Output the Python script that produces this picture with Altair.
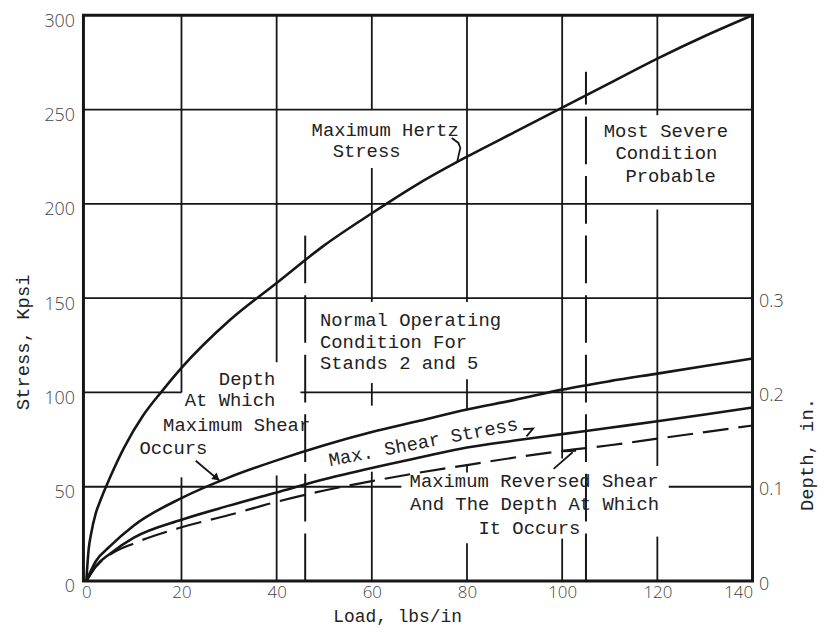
import altair as alt
import pandas as pd

# ---------------- data ----------------
load_hertz = [0, 0.5, 1, 2, 3, 5, 8, 12, 16, 20, 30, 40, 50, 60, 70, 80, 90, 100, 110, 120, 130, 140]
hertz_stress = [0, 17, 25, 36, 43, 55, 71, 88, 101, 113, 138, 158, 178, 195, 211, 225, 238, 251, 264, 277, 289, 300]

load_pts = [0, 2, 5, 10, 20, 30, 40, 50, 60, 70, 80, 90, 100, 110, 120, 130, 140]
depth_max_shear_in = [0, 0.021, 0.037, 0.059, 0.088, 0.110, 0.128, 0.144, 0.158, 0.170, 0.182, 0.192, 0.203, 0.212, 0.220, 0.228, 0.236]
max_shear_stress = [0, 8, 14.5, 23, 32.5, 40, 47, 54, 60, 65.5, 70.8, 74.5, 77.9, 81.3, 84.7, 88.3, 92]
max_reversed_shear = [0, 7.5, 14, 20, 28.5, 35, 42, 48, 53, 57.5, 61.5, 65.5, 69, 72, 75.5, 79, 82.5]

x_ticks = [0, 20, 40, 60, 80, 100, 120, 140]
y_ticks = [0, 50, 100, 150, 200, 250, 300]
depth_ticks = [0, 0.1, 0.2, 0.3]

# hand-drawn grid (interrupted where the lettering sits)
vgrid_x = [20, 20, 40, 40, 60, 60, 60, 60, 80, 80, 80, 80, 100, 100, 120, 120, 120]
vgrid_y1 = [0, 100, 0, 116, 0, 93, 148, 250, 0, 57.5, 91, 148, 0, 65, 0, 61, 247]
vgrid_y2 = [55, 300, 56, 300, 58, 105, 219, 300, 20, 62, 107, 300, 22.5, 300, 23.6, 197, 300]

hgrid_y = [50, 50, 100, 100, 150, 200, 250]
hgrid_x1 = [-0.6, 122.4, -0.6, 45, -0.6, -0.6, -0.6]
hgrid_x2 = [66.2, 140, 20, 140, 140, 140, 140]

# operating-condition markers (dashed verticals)
cond_x = [46, 105]
cond_top = [186, 270]

# annotations
ann_center_text = ["Maximum Hertz", "Stress", "Most Severe", "Condition", "Probable",
                   "Depth", "At Which", "Maximum Shear", "Occurs",
                   "Maximum Reversed Shear", "And The Depth At Which", "It Occurs"]
ann_center_x = [62.8, 58.9, 121.8, 121.9, 122.8, 33.8, 30.2, 31.6, 18.3, 94.1, 94.2, 93.1]
ann_center_y = [239, 228, 238.7, 227, 215, 107.1, 96, 82.9, 70.3, 52.9, 40.8, 28.2]

ann_left_text = ["Normal Operating", "Condition For", "Stands 2 and 5"]
ann_left_x = [49.1, 49.1, 49.1]
ann_left_y = [138.4, 126.6, 115.5]

ann_rot_text = ["Max. Shear Stress"]
ann_rot_x = [70.8]
ann_rot_y = [73.7]

# leader lines (from label to curve)
lead_grp = ["hertz"] * 5 + ["occurs"] * 2 + ["shear"] * 3 + ["rev"] * 2 + ["revhook"] * 2
lead_x = [76.8, 78.2, 78.6, 78.2, 77.9, 23.0, 28.0, 91.8, 93.9, 92.5, 98.2, 102.2, 100.3, 102.9]
lead_y = [234.9, 232.3, 229.6, 225.3, 221.7, 63.8, 53.2, 80.5, 80.9, 76.7, 59.5, 68.3, 68.8, 69.1]
arrow_x = [27.4]
arrow_y = [54.6]

# ---------------- tables ----------------
hertz_df = pd.DataFrame({"load": load_hertz, "stress": hertz_stress})
curves_df = pd.DataFrame({"load": load_pts, "depth": depth_max_shear_in,
                          "shear": max_shear_stress, "rev": max_reversed_shear})
vgrid_df = pd.DataFrame({"x": vgrid_x, "y1": vgrid_y1, "y2": vgrid_y2})
hgrid_df = pd.DataFrame({"y": hgrid_y, "x1": hgrid_x1, "x2": hgrid_x2})
cond_df = pd.DataFrame({"x": cond_x, "top": cond_top, "bot": [0, 0]})
annc_df = pd.DataFrame({"x": ann_center_x, "y": ann_center_y, "t": ann_center_text})
annl_df = pd.DataFrame({"x": ann_left_x, "y": ann_left_y, "t": ann_left_text})
annr_df = pd.DataFrame({"x": ann_rot_x, "y": ann_rot_y, "t": ann_rot_text})
lead_df = pd.DataFrame({"x": lead_x, "y": lead_y, "g": lead_grp, "o": list(range(len(lead_x)))})
arrow_df = pd.DataFrame({"x": arrow_x, "y": arrow_y})

# ---------------- scales / axes ----------------
INK = "#161616"
MONO = "Liberation Mono"
xs = alt.Scale(domain=[-0.6, 140], nice=False, zero=False)
ys = alt.Scale(domain=[0, 300], nice=False)
ds = alt.Scale(domain=[0, 0.6], nice=False)

x_axis = alt.Axis(values=x_ticks, grid=False, ticks=False, domain=False,
                  labelFont="Open Sans", labelFontWeight=300, labelFontSize=17,
                  labelColor="#444", labelPadding=4,
                  title="Load, lbs/in", titleFont=MONO, titleFontSize=18,
                  titleFontWeight="normal", titleColor="#222",
                  titleX=316, titleY=36, titleAlign="center", titleBaseline="middle")
y_axis = alt.Axis(values=y_ticks, grid=False, ticks=False, domain=False,
                  labelFont="Open Sans", labelFontWeight=300, labelFontSize=18,
                  labelColor="#444", labelPadding=9, labelBaseline="middle", labelOffset=6,
                  title="Stress, Kpsi", titleFont=MONO, titleFontSize=19,
                  titleFontWeight="normal", titleColor="#222",
                  titleAngle=270, titleX=-61, titleY=329,
                  titleAlign="center", titleBaseline="middle")
d_axis = alt.Axis(orient="right", values=depth_ticks, format=".1~f",
                  grid=False, ticks=False, domain=False,
                  labelFont="Open Sans", labelFontWeight=300, labelFontSize=18,
                  labelColor="#444", labelPadding=6, labelBaseline="middle", labelOffset=3,
                  title="Depth, in.", titleFont=MONO, titleFontSize=19,
                  titleFontWeight="normal", titleColor="#222",
                  titleAngle=270, titleX=54, titleY=442,
                  titleAlign="center", titleBaseline="middle")

X = lambda f: alt.X(f, type="quantitative", scale=xs, axis=x_axis)
Y = lambda f: alt.Y(f, type="quantitative", scale=ys, axis=y_axis)

vgrid = alt.Chart(vgrid_df).mark_rule(color=INK, strokeWidth=1.8).encode(
    x=X("x"), y=Y("y1"), y2="y2")
hgrid = alt.Chart(hgrid_df).mark_rule(color=INK, strokeWidth=1.8).encode(
    y=Y("y"), x=X("x1"), x2="x2")
cond = alt.Chart(cond_df).mark_rule(color=INK, strokeWidth=2, strokeDash=[48, 12]).encode(
    x=X("x"), y=Y("bot"), y2="top")

hertz = alt.Chart(hertz_df).mark_line(color=INK, strokeWidth=2.6, interpolate="monotone").encode(
    x=X("load"), y=Y("stress"))
shear = alt.Chart(curves_df).mark_line(color=INK, strokeWidth=2.6, interpolate="monotone").encode(
    x=X("load"), y=Y("shear"))
rev = alt.Chart(curves_df).mark_line(color=INK, strokeWidth=2.2, strokeDash=[26, 10],
                                     interpolate="monotone").encode(
    x=X("load"), y=Y("rev"))

leads = alt.Chart(lead_df).mark_line(color=INK, strokeWidth=1.8).encode(
    x=X("x"), y=Y("y"), detail="g:N", order="o:Q")
arrow = alt.Chart(arrow_df).mark_point(shape="triangle-up", filled=True, color=INK,
                                       size=70, angle=130, opacity=1).encode(
    x=X("x"), y=Y("y"))

txt_c = alt.Chart(annc_df).mark_text(font=MONO, fontSize=19, color="#222",
                                     align="center", baseline="middle").encode(
    x=X("x"), y=Y("y"), text="t:N")
txt_l = alt.Chart(annl_df).mark_text(font=MONO, fontSize=19, color="#222",
                                     align="left", baseline="middle").encode(
    x=X("x"), y=Y("y"), text="t:N")
txt_r = alt.Chart(annr_df).mark_text(font=MONO, fontSize=19, color="#222",
                                     align="center", baseline="middle", angle=349).encode(
    x=X("x"), y=Y("y"), text="t:N")

stress_layers = alt.layer(vgrid, hgrid, cond, hertz, shear, rev, leads, arrow,
                          txt_c, txt_l, txt_r)

depth_line = alt.Chart(curves_df).mark_line(color=INK, strokeWidth=2.6, interpolate="monotone").encode(
    x=X("load"),
    y=alt.Y("depth:Q", scale=ds, axis=d_axis))

chart = alt.layer(stress_layers, depth_line).resolve_scale(y="independent").properties(
    width=674, height=570,
    padding={"left": 76, "top": 5, "right": 70, "bottom": 48},
    autosize=alt.AutoSizeParams(type="none"),
    background="white",
).configure_view(stroke=INK, strokeWidth=3)

chart.save("out.html", embed_options={"renderer": "svg", "actions": False})
